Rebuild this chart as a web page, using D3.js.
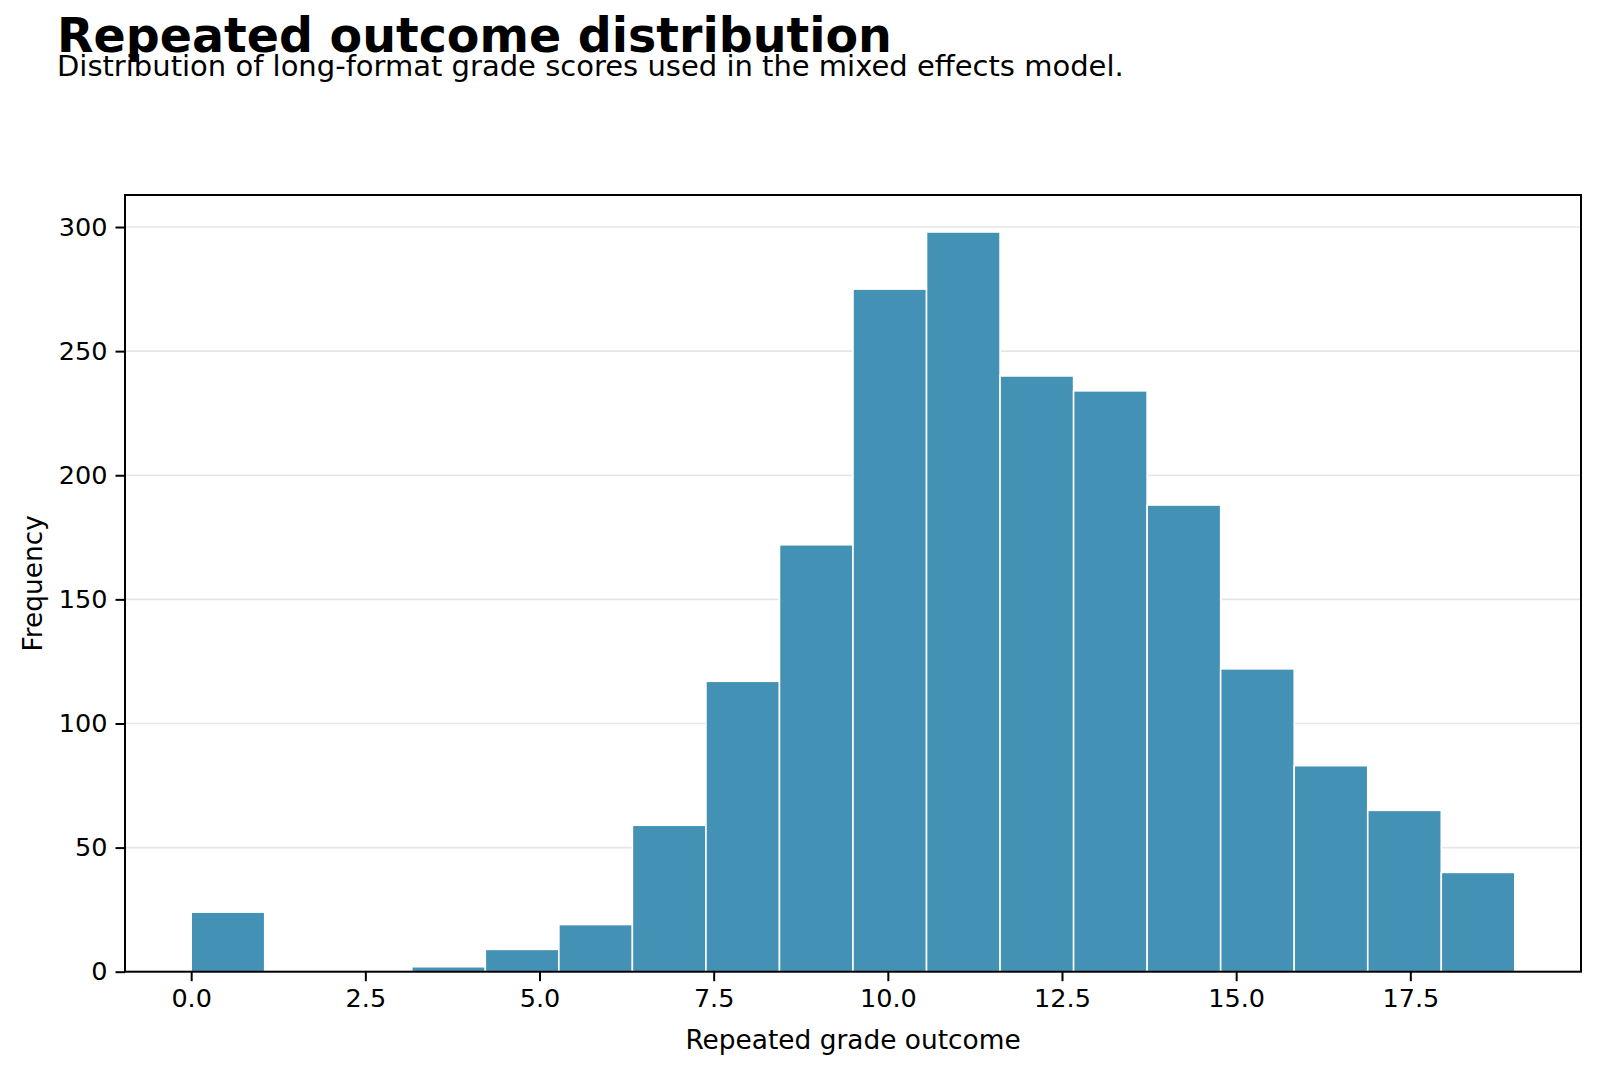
<!DOCTYPE html>
<html>
<head>
<meta charset="utf-8">
<script src="https://cdn.jsdelivr.net/npm/d3@7"></script>
<style>
  body { margin: 0; background: #fff; }
  text { font-family: "DejaVu Sans", sans-serif; fill: #000; }
</style>
</head>
<body>
<div id="canvas"></div>
<script>
// histogram: 18 equal bins between 0 and 19
var binLow = 0, binHigh = 19, binCount = 18;
var counts = [24, 0, 0, 2, 9, 19, 59, 117, 172, 275, 298, 240, 234, 188, 122, 83, 65, 40];
var xTicks = [0, 2.5, 5, 7.5, 10, 12.5, 15, 17.5];
var yTicks = [0, 50, 100, 150, 200, 250, 300];

var W = 1600, H = 1073;
var m = {t: 195, r: 19, b: 101.3, l: 125},
    w = W - m.l - m.r,
    h = H - m.t - m.b;

var svg = d3.select('#canvas')
    .append('svg')
    .attr('width', W)
    .attr('height', H);

var binW = (binHigh - binLow) / binCount;
var bins = counts.map(function(c, i) {
  return {x0: binLow + i * binW, x1: binLow + (i + 1) * binW, n: c};
});

var pad = (binHigh - binLow) * 0.05;
var scaleX = d3.scaleLinear().domain([binLow - pad, binHigh + pad]).range([0, w]);
var scaleY = d3.scaleLinear().domain([0, d3.max(counts) * 1.05]).range([h, 0]);

var plot = svg.append('g')
    .attr('transform', 'translate(' + m.l + ',' + m.t + ')');

// gridlines
plot.append('g').selectAll('line')
    .data(yTicks)
    .enter().append('line')
    .attr('x1', 0).attr('x2', w)
    .attr('y1', function(d) { return scaleY(d); })
    .attr('y2', function(d) { return scaleY(d); })
    .style('stroke', '#e6e6e6')
    .style('stroke-width', 1.6);

// bars
plot.append('g').selectAll('rect')
    .data(bins)
    .enter().append('rect')
    .attr('x', function(d) { return scaleX(d.x0); })
    .attr('y', function(d) { return scaleY(d.n); })
    .attr('width', function(d) { return scaleX(d.x1) - scaleX(d.x0); })
    .attr('height', function(d) { return h - scaleY(d.n); })
    .style('fill', '#4391b4')
    .style('stroke', '#ffffff')
    .style('stroke-width', function(d) { return d.n > 0 ? 1.6 : 0; });

// axes
var axisX = d3.axisBottom(scaleX)
    .tickValues(xTicks)
    .tickFormat(d3.format('.1f'))
    .tickSize(9.5)
    .tickPadding(8);
var axisY = d3.axisLeft(scaleY)
    .tickValues(yTicks)
    .tickSize(9.5)
    .tickPadding(8);

plot.append('g').attr('class', 'axis axis-x')
    .attr('transform', 'translate(0,' + h + ')')
    .call(axisX);
plot.append('g').attr('class', 'axis axis-y')
    .call(axisY);

plot.selectAll('.axis .domain').remove();
plot.selectAll('.axis line').style('stroke', '#000').style('stroke-width', 2);
plot.selectAll('.axis text')
    .style('font-family', '"DejaVu Sans", sans-serif')
    .style('font-size', '25.5px');

// frame
plot.append('rect')
    .attr('width', w).attr('height', h)
    .style('fill', 'none')
    .style('stroke', '#000')
    .style('stroke-width', 2);

// labels
svg.append('text')
    .attr('x', m.l + w / 2)
    .attr('y', 1049)
    .attr('text-anchor', 'middle')
    .style('font-size', '26.4px')
    .text('Repeated grade outcome');

svg.append('text')
    .attr('transform', 'translate(42,' + (m.t + h / 2) + ') rotate(-90)')
    .attr('text-anchor', 'middle')
    .style('font-size', '26.4px')
    .text('Frequency');

svg.append('text')
    .attr('x', 57)
    .attr('y', 52)
    .style('font-size', '47.5px')
    .style('font-weight', 'bold')
    .text('Repeated outcome distribution');

svg.append('text')
    .attr('x', 57)
    .attr('y', 76)
    .style('font-size', '29px')
    .text('Distribution of long-format grade scores used in the mixed effects model.');
</script>
</body>
</html>
